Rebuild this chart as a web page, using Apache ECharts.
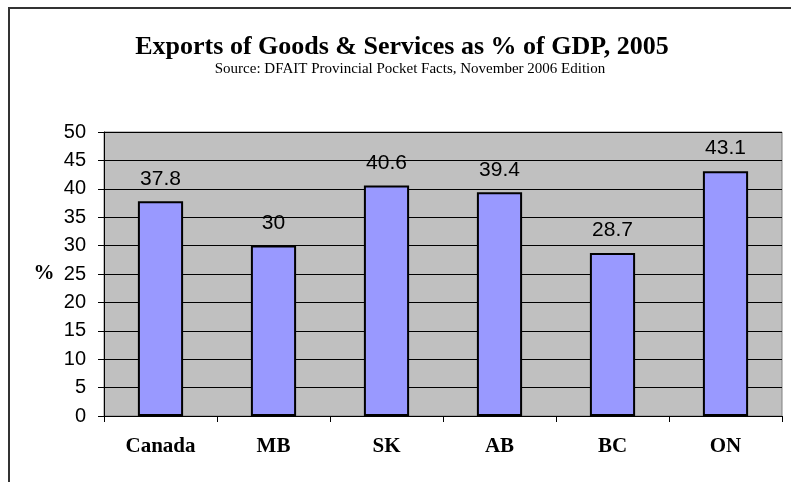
<!DOCTYPE html>
<html><head><meta charset="utf-8">
<script src="https://cdn.jsdelivr.net/npm/echarts@6/dist/echarts.min.js"></script>
<style>html,body{margin:0;padding:0;background:#fff}#c{width:791px;height:482px}</style>
</head><body><div id="c"></div>
<script>
const categories = ['Canada', 'MB', 'SK', 'AB', 'BC', 'ON'];
const values = [37.8, 30, 40.6, 39.4, 28.7, 43.1];
const yTicks = [0, 5, 10, 15, 20, 25, 30, 35, 40, 45, 50];

const chart = echarts.init(document.getElementById('c'));
chart.setOption({
  backgroundColor: '#fff',
  animation: false,
  title: [{
    text: 'Exports of Goods & Services as % of GDP, 2005',
    left: 397, top: 29, textAlign: 'center',
    textStyle: {fontFamily: 'Liberation Serif', fontWeight: 'bold', fontSize: 26, color: '#000'}
  }, {
    text: 'Source: DFAIT Provincial Pocket Facts, November 2006 Edition',
    left: 405, top: 57, textAlign: 'center',
    textStyle: {fontFamily: 'Liberation Serif', fontWeight: 'normal', fontSize: 15, color: '#000'}
  }],
  graphic: [
    {type: 'polyline', shape: {points: [[9, 482], [9, 8], [791, 8]]}, style: {stroke: '#333', lineWidth: 2, fill: null}},
    {type: 'text', x: 44, y: 274, style: {text: '%', font: 'bold 21px "Liberation Serif"', fill: '#000', align: 'center', verticalAlign: 'middle'}}
  ],
  grid: {left: 104, right: 9, top: 132, bottom: 66, show: true, backgroundColor: '#C0C0C0', borderColor: '#808080', borderWidth: 1},
  xAxis: {
    type: 'category', data: categories,
    axisLine: {lineStyle: {color: '#000', width: 1}},
    axisTick: {show: true, length: 6, lineStyle: {color: '#000'}},
    axisLabel: {fontFamily: 'Liberation Serif', fontWeight: 'bold', fontSize: 21, color: '#000', margin: 20}
  },
  yAxis: {
    type: 'value', min: 0, max: 50, interval: 5,
    axisLine: {show: true, lineStyle: {color: '#000'}},
    axisTick: {show: true, length: 6, lineStyle: {color: '#000'}},
    axisLabel: {fontFamily: 'Liberation Sans', fontSize: 20, color: '#000', margin: 18,
      formatter: v => yTicks.includes(v) ? String(v) : ''},
    splitLine: {show: true, lineStyle: {color: '#000', width: 1}}
  },
  series: [{
    type: 'bar', data: values, barWidth: '40%',
    itemStyle: {color: '#9999FF', borderColor: '#000', borderWidth: 2},
    label: {show: true, position: 'top', distance: 12, fontFamily: 'Liberation Sans', fontSize: 21, color: '#000'}
  }]
});
</script></body></html>
